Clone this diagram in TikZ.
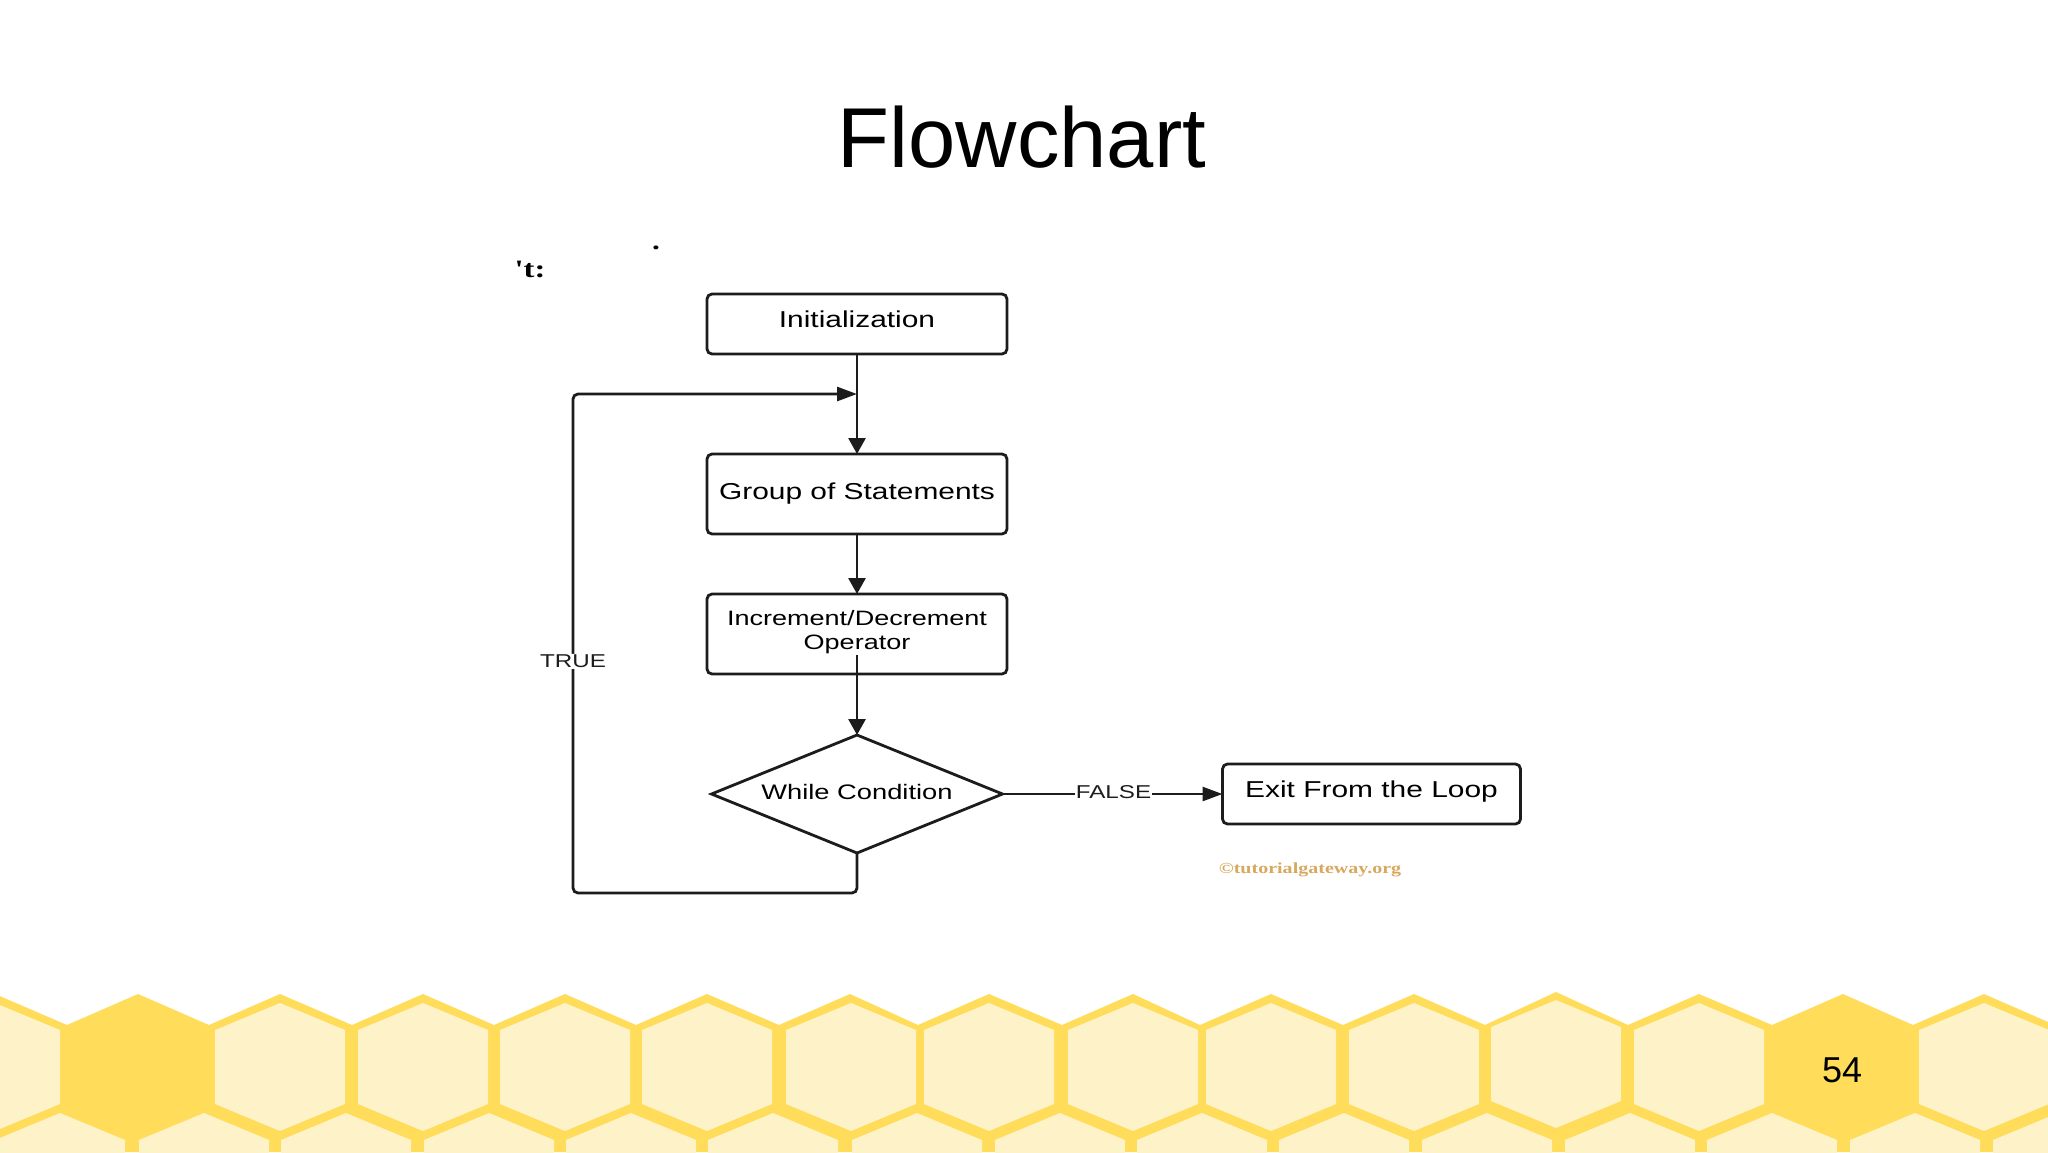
\documentclass[tikz,border=0pt]{standalone}
\usepackage{fontspec}
\setmainfont{Liberation Sans}
\newfontfamily\boxfont[FakeStretch=1.3]{Liberation Sans}
\newfontfamily\markfont[FakeStretch=1.3]{Liberation Serif}
\usetikzlibrary{arrows.meta}
\usetikzlibrary{shapes.geometric}
\usetikzlibrary{positioning}
\usetikzlibrary{calc}
\definecolor{combyellow}{HTML}{FFDC5A}
\definecolor{combpale}{HTML}{FEF3C8}
\definecolor{boxline}{HTML}{1C1C1C}
\definecolor{markbrown}{HTML}{D9A860}

\begin{document}
\begin{tikzpicture}[x=1pt,y=-1pt]
  \tikzset{flowbox/.style={draw=boxline,line width=2.8pt,rounded corners=5pt,minimum width=#1,outer sep=0pt,
             inner sep=0pt,font=\boxfont\fontsize{23}{24}\selectfont,align=center},
           flowdiamond/.style={draw=boxline,line width=2.8pt,diamond,aspect=2.466,minimum width=291pt,
             minimum height=118pt,inner sep=0pt,outer sep=0pt,font=\boxfont\fontsize{21}{24}\selectfont},
           flowline/.style={draw=boxline,line width=2.8pt,-{Triangle[length=16pt,width=17pt]}},
           flowacross/.style={draw=boxline,line width=2.8pt,-{Triangle[length=20pt,width=14pt]}},
           flowlabel/.style={fill=white,inner sep=1pt,text=boxline,font=\boxfont\fontsize{18.6}{20}\selectfont},
           combcell/.style={fill=combpale,draw=none}}
  \useasboundingbox (0,0) rectangle (2048,1152);
  \clip (0,0) rectangle (2048,1152);

  % honeycomb
  \fill[combyellow] (-76,1025) -- (-5,994)
    \foreach \x/\y in {138/994,280/994,423/994,565/994,707/994,850/994,989/994,1133/994,1271/994,1414/994,1556/992,1699/994,1843/994,1984/994}
      {-- ($(\x,994)+(-71,31)$) -- (\x,\y)} -- (2055,1025) -- (2055,1152) -- (-76,1152) -- cycle;
  \foreach \x/\y in {-5/1003,280/1003,423/1003,565/1003,707/1003,851/1003,989/1003,1133/1003,1271/1003,1414/1003,1556/1000,1699/1003,1984/1003}
    \fill[combcell] (\x,\y) -- ++(65,27) -- ++(0,74) -- ++(-65,27) -- ++(-65,-27) -- ++(0,-74) -- cycle;
  \foreach \x in {60,204,346,489,631,773,917,1060,1202,1344,1487,1630,1772,1915,2058}
    \fill[combcell] (\x,1113) -- ++(65,27) -- ++(0,30) -- ++(-130,0) -- ++(0,-30) -- cycle;
  \node[font=\fontsize{36}{36}\selectfont] (pagenum) at (1842,1070) {54};

  \node[font=\fontsize{85}{85}\selectfont] (title) at (1022,137) {Flowchart};
  \node[font=\markfont\bfseries\fontsize{25}{25}\selectfont] (cutoff) at (530,269) {'t:};
  \node[font=\markfont\bfseries\fontsize{24}{24}\selectfont] (speck) at (656,248) {.};

  % flow
  \node[flowbox=300pt,minimum height=60pt,text depth=9pt] (init) at (857,324) {Initialization};
  \node[flowbox=300pt,minimum height=80pt,below=100pt of init] (group) {Group of Statements};
  \node[flowbox=300pt,minimum height=80pt,below=60pt of group,text depth=9pt,font=\boxfont\fontsize{20.8}{24}\selectfont]
     (incr) {Increment/Decrement\\Operator};
  \node[flowdiamond,below=61pt of incr,text depth=4pt] (cond) {While Condition};
  \node[flowbox=298pt,minimum height=60pt,right=220pt of cond,text depth=9pt] (exit) {Exit From the Loop};
  \node[text=markbrown,font=\markfont\bfseries\fontsize{15.4}{16}\selectfont] (credit) at (1310,869.5) {©tutorialgateway.org};

  \coordinate (merge) at ($(init.south)!0.4!(group.north)$);
  \coordinate (loopbase) at (573,893);
  \coordinate (looptop) at (573,394);

  \draw[flowline] (init.south) -- (group.north);
  \draw[flowline] (group.south) -- (incr.north);
  \draw[flowline] (incr.south) ++(0,19pt) -- (cond.north);
  \draw[flowacross] (cond.east) -- node[flowlabel,midway,yshift=2pt,xshift=1pt] (falselabel) {FALSE} (exit.west);
  \draw[flowacross,rounded corners=5pt] (cond.south) |- (loopbase)
     -- node[flowlabel,pos=0.464] (truelabel) {TRUE} (looptop) -- (merge);
\end{tikzpicture}
\end{document}
